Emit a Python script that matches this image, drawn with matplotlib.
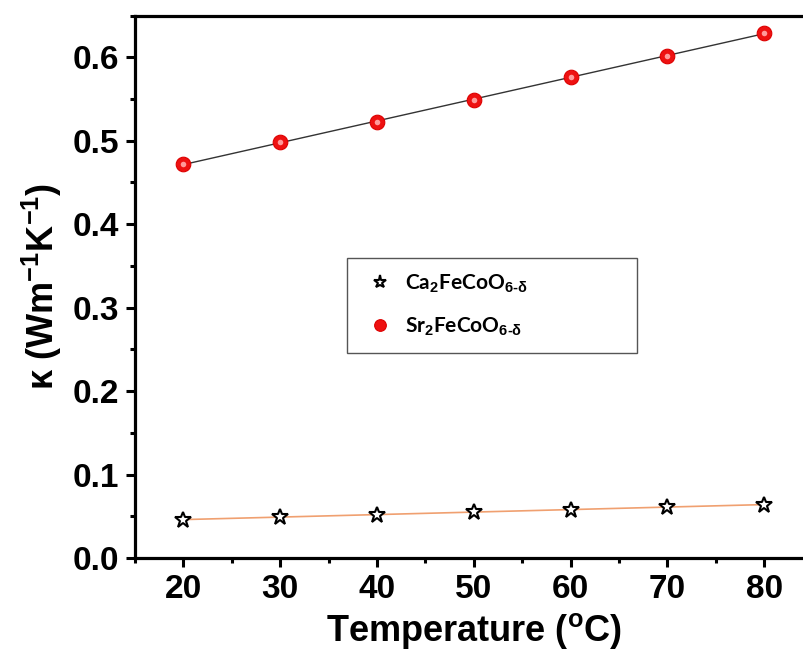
import numpy as np
import matplotlib
matplotlib.use('Agg')
import matplotlib.pyplot as plt
from matplotlib.ticker import MultipleLocator

matplotlib.rcParams['mathtext.fontset'] = 'custom'
matplotlib.rcParams['mathtext.rm'] = 'Liberation Sans:bold'
matplotlib.rcParams['mathtext.bf'] = 'Liberation Sans:bold'
matplotlib.rcParams['mathtext.it'] = 'Liberation Sans:bold'

temperature = [20, 30, 40, 50, 60, 70, 80]
kappa_ca = [0.046, 0.049, 0.052, 0.055, 0.058, 0.061, 0.064]
kappa_sr = [0.472, 0.498, 0.523, 0.549, 0.576, 0.602, 0.629]
label_ca = r'Ca$_2$FeCoO$_{6\text{-}\delta}$'
label_sr = r'Sr$_2$FeCoO$_{6\text{-}\delta}$'

fig = plt.figure(figsize=(8.04, 6.52), dpi=100)
ax = fig.add_axes([0.168, 0.1442, 0.8428, 0.832])

t = np.array(temperature)
fit_ca = np.polyfit(t, kappa_ca, 1)
fit_sr = np.polyfit(t, kappa_sr, 1)
ax.plot(t, np.polyval(fit_ca, t), color='#f0a070', lw=1.2, zorder=2)
ax.plot(t, np.polyval(fit_sr, t), color='#333333', lw=1.0, zorder=2)

ax.plot(temperature, kappa_ca, ls='none', marker='*', ms=12, mfc='white',
        mec='black', mew=1.5, label=label_ca, zorder=3)
ax.plot(temperature, kappa_sr, ls='none', marker='o', ms=10.5, mfc='#ee1111',
        mec='#dd0000', mew=0.8, label=label_sr, zorder=3)
# small highlight on the red balls
ax.plot(temperature, kappa_sr, ls='none', marker='o', ms=4, mfc='#ff9a9a',
        mec='none', zorder=4)

ax.set_xlim(15, 85)
ax.set_ylim(0, 0.65)
ax.xaxis.set_minor_locator(MultipleLocator(5))
ax.yaxis.set_minor_locator(MultipleLocator(0.05))
ax.set_xticks([20, 30, 40, 50, 60, 70, 80])
ax.set_xticklabels(['20', '30', '40', '50', '60', '70', '80'])
ax.set_yticks([0.0, 0.1, 0.2, 0.3, 0.4, 0.5, 0.6])
ax.set_yticklabels(['0.0', '0.1', '0.2', '0.3', '0.4', '0.5', '0.6'])

for s in ax.spines.values():
    s.set_linewidth(2.3)
ax.tick_params(which='major', direction='out', length=6.5, width=2.2,
               labelsize=24, pad=5)
ax.tick_params(which='minor', direction='out', length=3.5, width=2.2)
for lab in ax.get_xticklabels() + ax.get_yticklabels():
    lab.set_fontfamily('Liberation Sans')
    lab.set_fontweight('bold')

ax.set_xlabel(r'Temperature ($^\mathrm{o}$C)', fontsize=26,
              fontfamily='Liberation Sans', fontweight='bold', labelpad=4)
ax.set_ylabel(r'κ (Wm$^{-1}$K$^{-1}$)', fontsize=26,
              fontfamily='Liberation Sans', fontweight='bold', labelpad=6)

leg = ax.legend(loc='upper left', bbox_to_anchor=(0.313, 0.378, 0.428, 0.175),
                mode='expand', fancybox=False, edgecolor='#555555', framealpha=1,
                prop={'family': 'Lato', 'weight': 'bold', 'size': 15},
                borderpad=0.7, labelspacing=1.0, handletextpad=0.3,
                borderaxespad=0, markerscale=0.8, handlelength=1.8)
leg.get_frame().set_linewidth(1.0)

fig.savefig('out.png', dpi=100)
